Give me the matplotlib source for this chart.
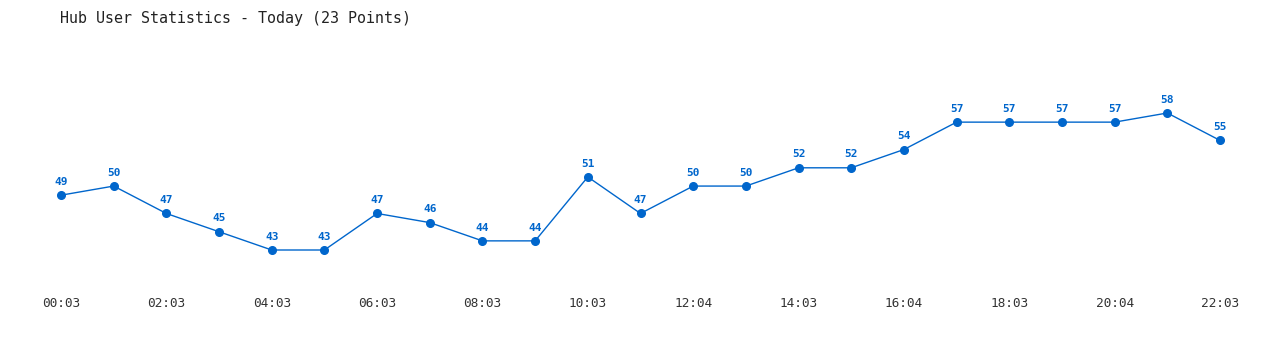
import matplotlib
matplotlib.use("Agg")
from matplotlib import pyplot as plt

# Hub users, one reading every hour (23 points)
users = [49, 50, 47, 45, 43, 43, 47, 46, 44, 44, 51, 47,
         50, 50, 52, 52, 54, 57, 57, 57, 57, 58, 55]
# only every other point carries a time label
tick_labels = ["00:03", "02:03", "04:03", "06:03", "08:03", "10:03",
               "12:04", "14:03", "16:04", "18:03", "20:04", "22:03"]
title = "Hub User Statistics - Today (23 Points)"

blue = "#0066cc"
mono = "DejaVu Sans Mono"

fig = plt.figure(figsize=(12.8, 3.5), dpi=100)
ax = fig.add_axes([61 / 1280, 100 / 350, (1220 - 61) / 1280, 137 / 350])

xs = list(range(len(users)))
ax.plot(xs, users, color=blue, linewidth=1, marker="o", markersize=5.5,
        clip_on=False)
for x, v in zip(xs, users):
    ax.annotate(str(v), (x, v), xytext=(0, 6), textcoords="offset points",
                ha="center", va="bottom", color=blue, fontsize=8,
                fontweight="bold", family=mono)

ax.set_xlim(0, len(users) - 1)
ax.set_ylim(min(users), max(users))
ax.set_xticks(xs[::2])
ax.set_xticklabels(tick_labels, family=mono, fontsize=9.2, color="#333333")
ax.tick_params(axis="x", length=0, pad=34)
ax.set_yticks([])
for s in ax.spines.values():
    s.set_visible(False)

fig.text(60 / 1280, 1 - 18 / 350, title, family=mono, fontsize=10.8,
         color="#222222", va="center", ha="left")

fig.savefig("out.png", dpi=100)
